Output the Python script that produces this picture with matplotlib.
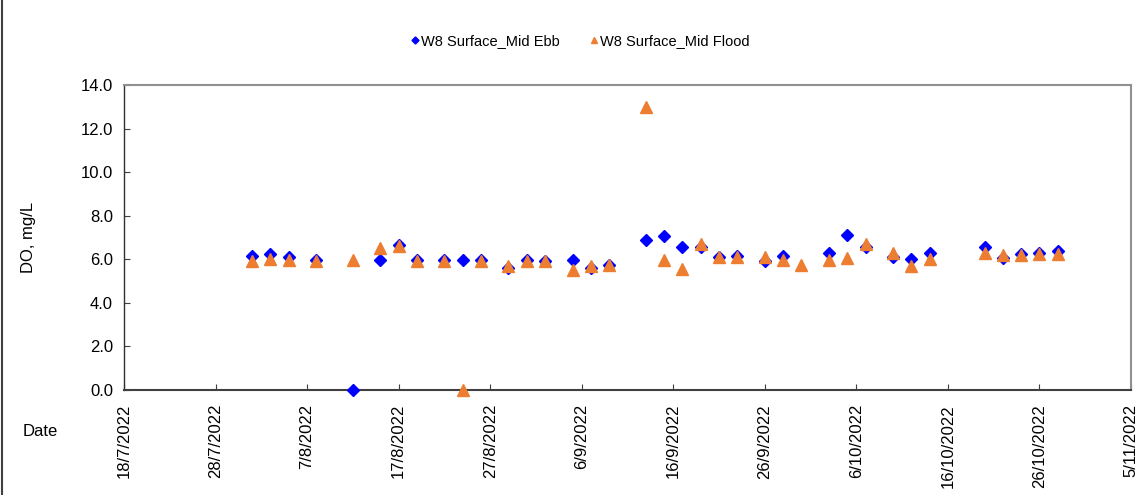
import datetime as dt
import matplotlib
matplotlib.use("Agg")
import matplotlib.pyplot as plt
from matplotlib.lines import Line2D

plt.rcParams['font.family'] = ['Liberation Sans', 'DejaVu Sans']

# 采样日期 (2022)
ebb_dates = ["1/8", "3/8", "5/8", "8/8", "12/8", "15/8", "17/8", "19/8", "22/8", "24/8",
             "26/8", "29/8", "31/8", "2/9", "5/9", "7/9", "9/9", "13/9", "15/9", "17/9",
             "19/9", "21/9", "23/9", "26/9", "28/9", "3/10", "5/10", "7/10", "10/10",
             "12/10", "14/10", "20/10", "22/10", "24/10", "26/10", "28/10"]
ebb_do = [6.15, 6.25, 6.1, 5.95, 0.0, 5.95, 6.65, 5.95, 5.95, 5.95,
          5.95, 5.6, 5.95, 5.9, 5.95, 5.6, 5.75, 6.9, 7.05, 6.55,
          6.55, 6.1, 6.15, 5.9, 6.15, 6.3, 7.1, 6.55, 6.1,
          6.0, 6.3, 6.55, 6.05, 6.25, 6.3, 6.4]

flood_dates = ["1/8", "3/8", "5/8", "8/8", "12/8", "15/8", "17/8", "19/8", "22/8", "24/8",
               "26/8", "29/8", "31/8", "2/9", "5/9", "7/9", "9/9", "13/9", "15/9", "17/9",
               "19/9", "21/9", "23/9", "26/9", "28/9", "30/9", "3/10", "5/10", "7/10", "10/10",
               "12/10", "14/10", "20/10", "22/10", "24/10", "26/10", "28/10"]
flood_do = [5.9, 6.0, 5.95, 5.9, 5.95, 6.5, 6.6, 5.9, 5.9, 0.0,
            5.9, 5.7, 5.9, 5.9, 5.5, 5.7, 5.75, 13.0, 5.95, 5.55,
            6.7, 6.1, 6.1, 6.1, 5.95, 5.75, 5.95, 6.05, 6.7, 6.3,
            5.7, 6.0, 6.3, 6.2, 6.2, 6.25, 6.25]


def to_date(s):
    d, m = s.split("/")
    return dt.date(2022, int(m), int(d))


fig = plt.figure(figsize=(11.39, 4.95), dpi=100)
ax = fig.add_axes([124 / 1139, 1 - 390 / 495, (1131 - 124) / 1139, (390 - 85) / 495])

ax.plot([to_date(s) for s in ebb_dates], ebb_do, linestyle='none', marker='D',
        color='#0000FF', markersize=6.5, label='W8 Surface_Mid Ebb', clip_on=False, zorder=3)
ax.plot([to_date(s) for s in flood_dates], flood_do, linestyle='none', marker='^',
        color='#ED7D31', markersize=9, label='W8 Surface_Mid Flood', clip_on=False, zorder=3)

ax.set_xlim(dt.date(2022, 7, 18), dt.date(2022, 11, 5))
ax.set_ylim(0, 14)
ax.set_yticks(range(0, 15, 2))
ax.set_yticklabels([f"{v:.1f}" for v in range(0, 15, 2)])
ticks = [dt.date(2022, 7, 18) + dt.timedelta(days=10 * i) for i in range(12)]
ax.set_xticks(ticks)
ax.set_xticklabels([f"{t.day}/{t.month}/{t.year}" for t in ticks], rotation=90)

ax.tick_params(axis='x', direction='in', length=4, labelsize=12, pad=10, color='#404040')
ax.tick_params(axis='y', direction='in', length=4, labelsize=12, pad=8, color='#404040')
ax.spines['left'].set_color('#303030')
ax.spines['left'].set_linewidth(1.0)
ax.spines['right'].set_color('#909090')
ax.spines['right'].set_linewidth(1.5)
ax.spines['top'].set_color('#909090')
ax.spines['top'].set_linewidth(1.5)
ax.spines['bottom'].set_color('#404040')
ax.spines['bottom'].set_linewidth(1.5)

ax.set_ylabel("DO, mg/L", fontsize=12)
ax.yaxis.set_label_coords(-(124 - 36) / (1131 - 124), 0.5)
fig.text(40 / 1139, 1 - 432 / 495, "Date", fontsize=12, ha='center', va='center')

fig.legend(loc='center', bbox_to_anchor=(578 / 1139, 1 - 41 / 495), ncol=2, frameon=False,
           fontsize=10.5, handletextpad=-0.2, columnspacing=1.8, markerscale=0.55,
           handlelength=1.2)

# 左侧边框线
fig.add_artist(Line2D([2 / 1139, 2 / 1139], [0, 1], transform=fig.transFigure,
                      color='#404040', linewidth=1.5))

fig.savefig("out.png", dpi=100)
